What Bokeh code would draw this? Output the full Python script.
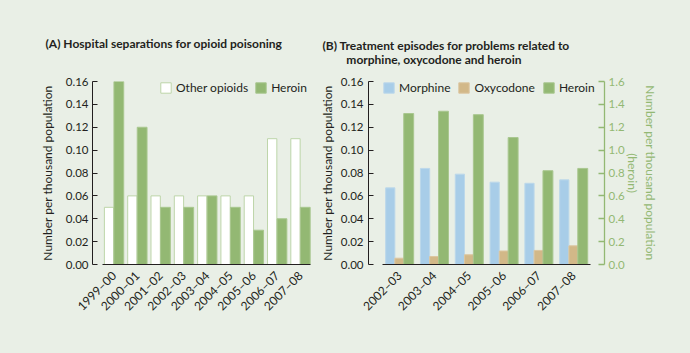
from bokeh.plotting import figure
from bokeh.layouts import row
from bokeh.models import Range1d, LinearAxis, Legend, LegendItem, Title, FixedTicker, NumeralTickFormatter
from bokeh.embed import file_html
from bokeh.resources import INLINE
import math

# ---------------- data ----------------
years_a = ["1999–00", "2000–01", "2001–02", "2002–03", "2003–04",
           "2004–05", "2005–06", "2006–07", "2007–08"]
other_opioids = [0.05, 0.06, 0.06, 0.06, 0.06, 0.06, 0.06, 0.11, 0.11]
heroin_a = [0.16, 0.12, 0.05, 0.05, 0.06, 0.05, 0.03, 0.04, 0.05]

years_b = ["2002–03", "2003–04", "2004–05", "2005–06", "2006–07", "2007–08"]
morphine = [0.067, 0.084, 0.079, 0.072, 0.071, 0.074]
oxycodone = [0.0055, 0.007, 0.0085, 0.0118, 0.0123, 0.0163]
heroin_b = [1.32, 1.34, 1.31, 1.11, 0.82, 0.84]

left_ticks = [0.0, 0.02, 0.04, 0.06, 0.08, 0.10, 0.12, 0.14, 0.16]
right_ticks = [0.0, 0.2, 0.4, 0.6, 0.8, 1.0, 1.2, 1.4, 1.6]

# ---------------- style ----------------
BG = "#e9efe6"
TXT = "#231f20"
GREEN = "#93b873"
GREEN_EDGE = "#a9c78f"
WHITE_EDGE = "#bdd5a9"
BLUE = "#a8cde8"
BLUE_EDGE = "#bcd8ea"
TAN = "#d2b888"
TAN_EDGE = "#dcc6a0"
FONT = "Lato"
FS = "12px"
FS_TICK = "11.5px"


def base_fig(width, left, right, xr):
    p = figure(width=width, height=353, output_backend="svg", toolbar_location=None,
               x_range=xr, y_range=Range1d(0, 0.16),
               min_border_left=left, min_border_right=right,
               min_border_top=81, min_border_bottom=89)
    p.background_fill_color = BG
    p.border_fill_color = BG
    p.outline_line_color = None
    p.xgrid.grid_line_color = None
    p.ygrid.grid_line_color = None
    return p


def style_y(ax, label, standoff_lbl, standoff_ax):
    ax.ticker = FixedTicker(ticks=left_ticks)
    ax.formatter = NumeralTickFormatter(format="0.00")
    ax.major_tick_in = 5
    ax.major_tick_out = 0
    ax.minor_tick_line_color = None
    ax.axis_line_color = TXT
    ax.major_tick_line_color = TXT
    ax.major_label_text_font = FONT
    ax.major_label_text_font_size = FS_TICK
    ax.major_label_text_color = TXT
    ax.major_label_standoff = standoff_lbl
    ax.axis_label = label
    ax.axis_label_text_font = FONT
    ax.axis_label_text_font_size = FS
    ax.axis_label_text_font_style = "normal"
    ax.axis_label_text_color = TXT
    ax.axis_label_standoff = standoff_ax


def style_x(ax, labels, bounds):
    ax.ticker = FixedTicker(ticks=list(range(len(labels))))
    ax.major_label_overrides = {i: s for i, s in enumerate(labels)}
    ax.major_label_orientation = math.pi / 4
    ax.major_tick_line_color = None
    ax.minor_tick_line_color = None
    ax.axis_line_color = TXT
    ax.axis_line_width = 1.2
    ax.bounds = bounds
    ax.major_label_text_font = FONT
    ax.major_label_text_font_size = FS
    ax.major_label_text_color = TXT
    ax.major_label_standoff = 3


def style_legend(lg, spacing):
    lg.background_fill_alpha = 0
    lg.border_line_color = None
    lg.padding = 0
    lg.margin = 0
    lg.spacing = spacing
    lg.glyph_width = 13
    lg.glyph_height = 13
    lg.label_height = 13
    lg.label_standoff = 4
    lg.label_text_font = FONT
    lg.label_text_font_size = FS
    lg.label_text_color = TXT
    lg.label_text_baseline = "middle"


def add_title(p, text, offset, standoff, lh):
    p.add_layout(Title(text=text, align="left", offset=offset, standoff=standoff,
                       text_font=FONT, text_font_size="12px", text_font_style="bold",
                       text_color=TXT, text_line_height=lh), "above")


# ---------------- Panel A ----------------
xa = list(range(len(years_a)))
pa = base_fig(312, 92, 0, Range1d(-0.92, 8.52))
ra1 = pa.vbar(x=[i - 0.21 for i in xa], top=other_opioids, width=0.40,
              fill_color="white", line_color=WHITE_EDGE, line_width=1)
ra2 = pa.vbar(x=[i + 0.21 for i in xa], top=heroin_a, width=0.42,
              fill_color=GREEN, line_color=GREEN_EDGE, line_width=1)
style_y(pa.yaxis[0], "Number per thousand population", 4, 8)
style_x(pa.xaxis[0], years_a, (-0.49, 8.43))

leg_a = Legend(items=[LegendItem(label="Other opioids", renderers=[ra1]),
                      LegendItem(label="Heroin", renderers=[ra2])],
               orientation="horizontal", location=(67, 169))
style_legend(leg_a, 6)
pa.add_layout(leg_a, "center")
add_title(pa, "(A) Hospital separations for opioid poisoning", -47, 62, 1.2)

# ---------------- Panel B ----------------
xb = list(range(len(years_b)))
pb = base_fig(378, 56, 86, Range1d(-0.89, 5.89))
pb.extra_y_ranges = {"heroin": Range1d(0, 1.6)}
bw = 0.265
rb1 = pb.vbar(x=[i - bw for i in xb], top=morphine, width=bw,
              fill_color=BLUE, line_color=BLUE_EDGE, line_width=1)
rb2 = pb.vbar(x=xb, top=oxycodone, width=bw,
              fill_color=TAN, line_color=TAN_EDGE, line_width=1)
rb3 = pb.vbar(x=[i + bw for i in xb], top=heroin_b, width=bw + 0.02,
              fill_color=GREEN, line_color=GREEN_EDGE, line_width=1, y_range_name="heroin")
style_y(pb.yaxis[0], "Number per thousand population", 5, 3)
style_x(pb.xaxis[0], years_b, (-0.49, 5.49))

rax = LinearAxis(y_range_name="heroin")
rax.ticker = FixedTicker(ticks=right_ticks)
rax.formatter = NumeralTickFormatter(format="0.0")
rax.major_tick_in = 6
rax.major_tick_out = 0
rax.minor_tick_line_color = None
rax.axis_line_color = GREEN
rax.axis_line_width = 1.3
rax.major_tick_line_color = GREEN
rax.major_tick_line_width = 1.3
rax.major_label_text_font = FONT
rax.major_label_text_font_size = FS_TICK
rax.major_label_text_color = GREEN
rax.major_label_standoff = 4
rax.axis_label = "Number per thousand population\n(heroin)"
rax.axis_label_text_font = FONT
rax.axis_label_text_font_size = FS
rax.axis_label_text_font_style = "normal"
rax.axis_label_text_color = GREEN
rax.axis_label_text_align = "center"
rax.axis_label_text_line_height = 1.2
rax.axis_label_standoff = -3
pb.add_layout(rax, "right")

leg_b = Legend(items=[LegendItem(label="Morphine", renderers=[rb1]),
                      LegendItem(label="Oxycodone", renderers=[rb2]),
                      LegendItem(label="Heroin", renderers=[rb3])],
               orientation="horizontal", location=(14, 169))
style_legend(leg_b, 7)
pb.add_layout(leg_b, "center")
add_title(pb, "(B) Treatment episodes for problems related to\n"
              "\u2002\u2002\u2002\u00a0\u00a0morphine, oxycodone and heroin", -46, 30, 0.9)

layout = row(pa, pb, spacing=0, styles={"background-color": BG})
open("out.html", "w").write(file_html(layout, INLINE))
